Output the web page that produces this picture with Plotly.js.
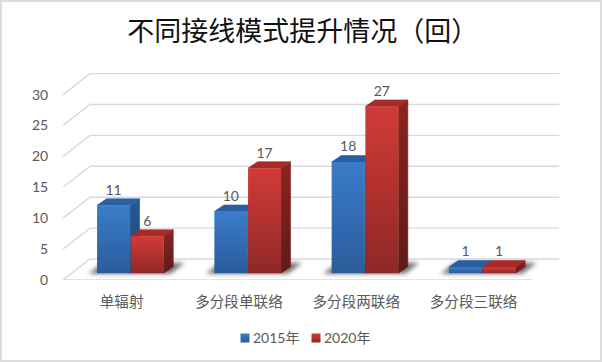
<!DOCTYPE html>
<html><head><meta charset="utf-8">
<script src="https://cdn.plot.ly/plotly-3.0.1.min.js"></script>
<style>html,body{margin:0;padding:0;background:#fff;overflow:hidden}
#chart{position:absolute;left:0;top:0;width:602px;height:362px}
#frame{position:absolute;left:0;top:0;width:602px;height:362px;box-sizing:border-box;border:2px solid #dcdcdc;pointer-events:none}</style>
</head><body><div id="chart"></div><div id="frame"></div>
<script>
const categories=['单辐射','多分段单联络','多分段两联络','多分段三联络'];
const seriesNames=['2015年','2020年'];
const values2015=[11,10,18,1];
const values2020=[6,17,27,1];
const yTicks=[0,5,10,15,20,25,30];
const titleText='不同接线模式提升情况（回）';

// pixel scale of the axes, used to express the oblique 3D look in data units
const L=63,R=39,T=65,B=82,W=602,H=362;
const uX=117.3,uY=6.18;
const xr=[-0.5,-0.5+(W-L-R)/uX], yr=[0,(H-T-B)/uY];
const px=v=>v/uX, py=v=>v/uY;
const wallDX=px(27),wallDY=py(21);
const planeDX=px(9),planeDY=py(6.7);
const barW=px(33), sideDX=px(9.5), sideDY=py(6.5);
const cats=categories.map((_,i)=>i);
const grid='#d9d9d9', txt='#595959';
const numFont='Lato, "Noto Sans CJK SC", sans-serif';
const COL=[{front:'#2e6cb5',top:'#2a5f9f',side:'#20518c'},{front:'#bb302c',top:'#a82a27',side:'#7a211f'}];

const traces=[];
// back wall, side wall and floor lines
yTicks.forEach(v=>traces.push({type:'scatter',mode:'lines',x:[-0.5,-0.5+wallDX,3.5+wallDX],y:[v,v+wallDY,v+wallDY],
  line:{color:grid,width:1.4},showlegend:false,hoverinfo:'skip',zorder:0}));
traces.push({type:'scatter',mode:'lines',x:[-0.5,3.5],y:[0,0],line:{color:grid,width:1.4},showlegend:false,hoverinfo:'skip',zorder:0,cliponaxis:false});
// floor shadows
cats.forEach(i=>{
  const c=i+planeDX;
  traces.push({type:'scatter',mode:'lines',fill:'toself',fillcolor:'rgba(70,70,70,0.75)',line:{width:0,color:'rgba(0,0,0,0)'},
    x:[c-px(42),c+px(40),c+px(54),c-px(28),c-px(42)],
    y:[planeDY-py(0.5),planeDY-py(0.5),planeDY+py(10.5),planeDY+py(10.5),planeDY-py(0.5)],
    showlegend:false,hoverinfo:'skip',zorder:1,meta:'shadow'});
});
[values2015,values2020].forEach((vals,s)=>{
  const off=s===0?px(-33.6):px(0.1);
  const z=2+s*2;
  vals.forEach((v,i)=>{
    const x0=i+planeDX+off,x1=x0+barW,yb=planeDY,yt=planeDY+v;
    traces.push({type:'scatter',mode:'lines',fill:'toself',fillcolor:COL[s].side,line:{width:0.6,color:COL[s].side},
      x:[x1,x1+sideDX,x1+sideDX,x1,x1],y:[yb,yb+sideDY,yt+sideDY,yt,yb],showlegend:false,hoverinfo:'skip',zorder:z,meta:'side'+s});
    traces.push({type:'scatter',mode:'lines',fill:'toself',fillcolor:COL[s].top,line:{width:0.6,color:COL[s].top},
      x:[x0,x1,x1+sideDX,x0+sideDX,x0],y:[yt,yt,yt+sideDY,yt+sideDY,yt],showlegend:false,hoverinfo:'skip',zorder:z});
  });
  traces.push({type:'bar',name:seriesNames[s],x:cats,y:vals,base:planeDY,offset:planeDX+off,width:barW,
    marker:{color:COL[s].front,line:{width:0}},hoverinfo:'skip',zorder:z+1});
  traces.push({type:'scatter',mode:'text',x:cats.map(i=>i+planeDX+off+barW/2),y:vals.map(v=>v+planeDY+2.3),text:vals.map(String),
    textposition:'middle center',textfont:{family:numFont,size:14,color:txt},showlegend:false,hoverinfo:'skip',zorder:10});
});

const layout={width:W,height:H,margin:{l:L,r:R,t:T,b:B,pad:0},paper_bgcolor:'#fff',plot_bgcolor:'rgba(0,0,0,0)',barmode:'overlay',
  title:{text:titleText,font:{family:'"Noto Sans CJK SC", sans-serif',size:27,weight:400,color:'#111'},x:0.503,xanchor:'center',y:0.912,yanchor:'middle'},
  xaxis:{range:xr,tickmode:'array',tickvals:cats,ticktext:categories,showgrid:false,zeroline:false,showline:false,ticks:'outside',ticklen:8,tickcolor:'rgba(0,0,0,0)',
    tickfont:{family:'"Noto Sans CJK SC", sans-serif',size:14.6,color:txt},fixedrange:true},
  yaxis:{range:yr,tickmode:'array',tickvals:yTicks,showgrid:false,zeroline:false,showline:false,ticks:'outside',ticklen:11,tickcolor:'rgba(0,0,0,0)',
    tickfont:{family:numFont,size:14,color:txt},fixedrange:true},
  legend:{orientation:'h',x:0.3,xanchor:'left',y:0.5,yanchor:'middle',font:{family:numFont,size:14,color:txt},bgcolor:'rgba(0,0,0,0)'},
  showlegend:true};

Plotly.newPlot('chart',traces,layout,{displayModeBar:false,staticPlot:true}).then(gd=>{
  const svg=gd.querySelector('.main-svg');
  const NS='http://www.w3.org/2000/svg';
  const defs=document.createElementNS(NS,'defs');
  const grad=(id,a,b)=>{const g=document.createElementNS(NS,'linearGradient');g.setAttribute('id',id);
    g.setAttribute('x1','0');g.setAttribute('y1','0');g.setAttribute('x2','0');g.setAttribute('y2','1');
    [[0,a],[1,b]].forEach(([o,c])=>{const st=document.createElementNS(NS,'stop');st.setAttribute('offset',o);st.setAttribute('stop-color',c);g.appendChild(st);});
    defs.appendChild(g);};
  grad('fb','#3a7cca','#2b5c9a');grad('fr','#d23b37','#8e2825');
  grad('sb','#265a96','#1c4674');grad('sr','#8a2522','#5e1a18');
  const f=document.createElementNS(NS,'filter');f.setAttribute('id','blur');
  ['x','y'].forEach(k=>f.setAttribute(k,'-30%'));['width','height'].forEach(k=>f.setAttribute(k,'160%'));
  const b=document.createElementNS(NS,'feGaussianBlur');b.setAttribute('stdDeviation','2');f.appendChild(b);defs.appendChild(f);
  svg.insertBefore(defs,svg.firstChild);
  const same=(el,hex)=>{const d=document.createElement('i');d.style.color=hex;return el.style.fill===d.style.color;};
  gd.querySelectorAll('.bars path, .legendpoints path').forEach(p=>{
    if(same(p,COL[0].front))p.style.fill='url(#fb)';
    else if(same(p,COL[1].front))p.style.fill='url(#fr)';
  });
  gd.querySelectorAll('.js-fill').forEach(p=>{
    if(same(p,COL[0].side))p.style.fill='url(#sb)';
    else if(same(p,COL[1].side))p.style.fill='url(#sr)';
    else if(p.style.fill.indexOf('70, 70, 70')>=0)p.style.filter='url(#blur)';
  });
  // compact legend to match the reference's swatches and spacing
  const items=gd.querySelectorAll('.legend .traces');
  const leg=gd.querySelector('.legend');
  leg.setAttribute('transform','translate(225,328)');
  items.forEach((it,k)=>{
    it.setAttribute('transform','translate('+(k*71)+',10)');
    const t=it.querySelector('.legendtext');t.setAttribute('x','28');
    const lp=it.querySelector('.legendpoints path');
    if(lp){lp.setAttribute('transform','translate(20,0) scale(0.75)');}
  });
});
</script></body></html>
